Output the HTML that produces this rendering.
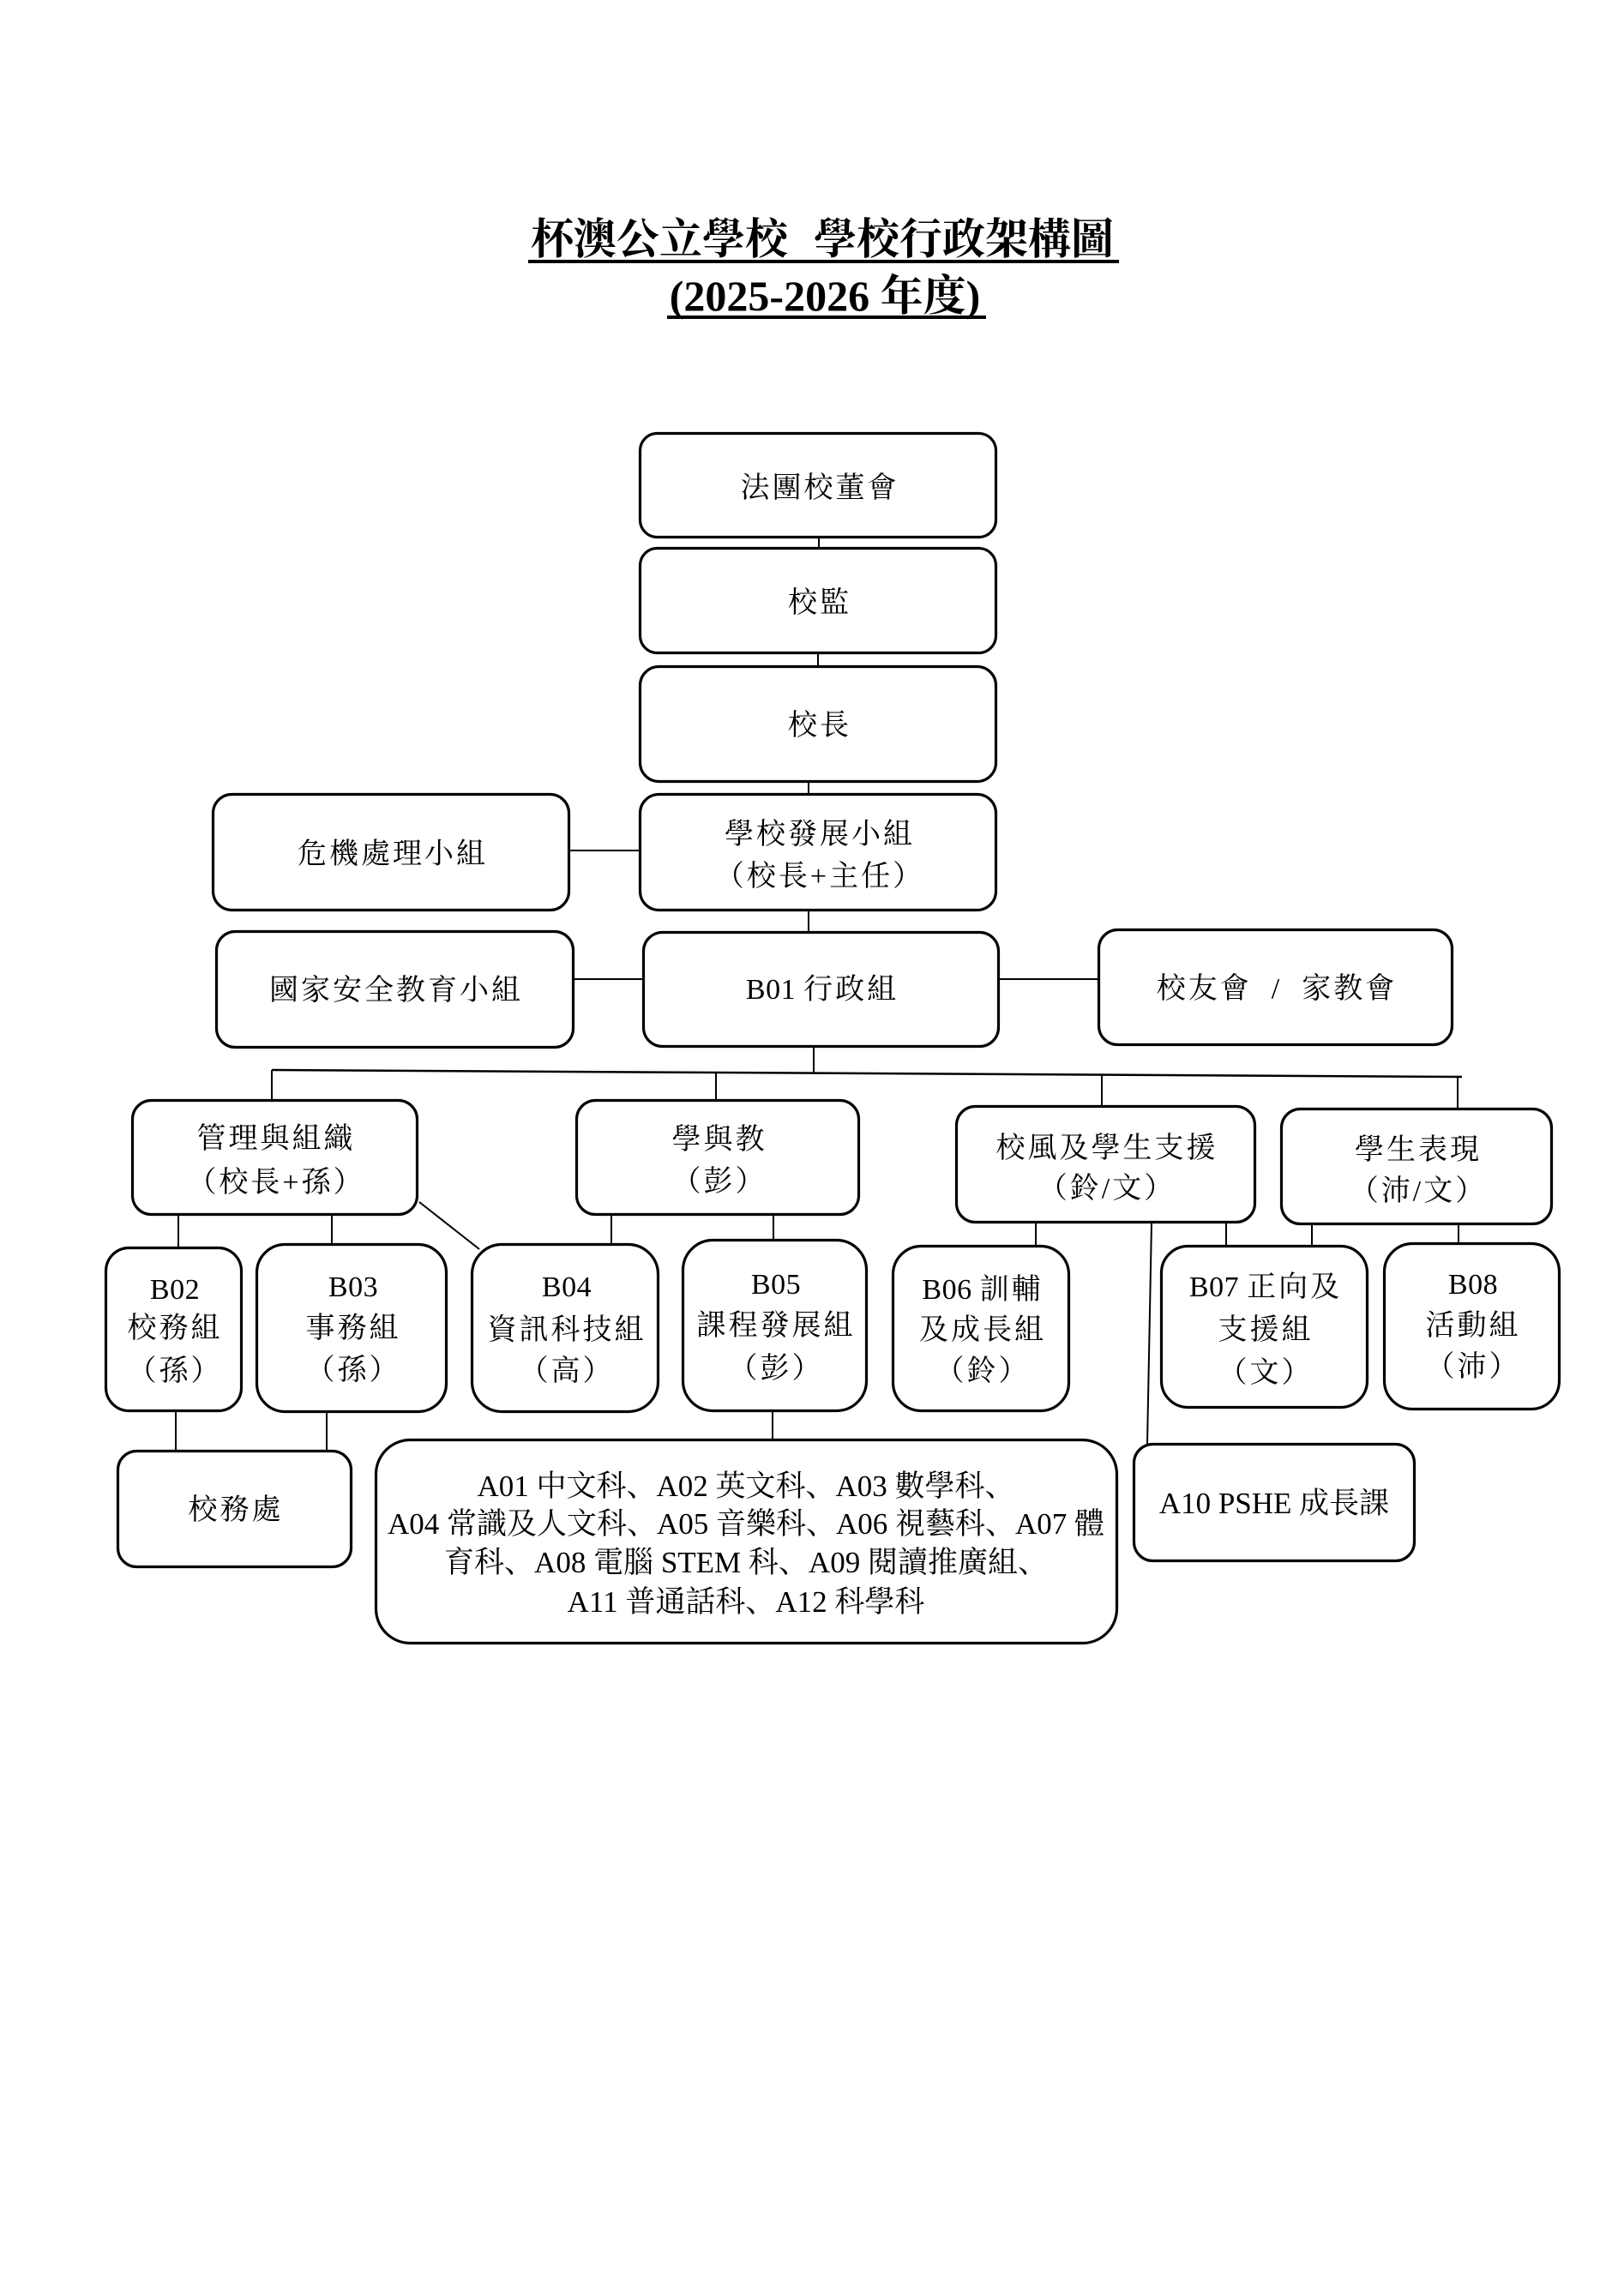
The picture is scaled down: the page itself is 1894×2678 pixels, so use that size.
<!DOCTYPE html>
<html><head><meta charset="utf-8">
<style>
html,body{margin:0;padding:0;background:#fff;}
svg{display:block;}
text{font-family:"Liberation Serif","Noto Serif CJK SC",serif;fill:#000;}
.t{font-size:34px;letter-spacing:3px;}
.a{font-size:35px;letter-spacing:0;}
.h{font-size:50px;font-weight:bold;}
.l{letter-spacing:0.5px;}
</style></head>
<body>
<svg width="1894" height="2678" viewBox="0 0 1894 2678" xmlns="http://www.w3.org/2000/svg">
<rect x="0" y="0" width="1894" height="2678" fill="#fff"/>

<!-- Title -->
<text class="h" x="619" y="296" text-anchor="start">杯澳公立學校</text>
<text class="h" x="1299" y="296" text-anchor="end">學校行政架構圖</text>
<rect x="616" y="303" width="689" height="4" fill="#000"/>
<text class="h" x="962" y="362" text-anchor="middle">(2025-2026 年度)</text>
<rect x="778" y="368" width="372" height="4" fill="#000"/>

<!-- connectors -->
<g stroke="#000" stroke-width="2" fill="none">
<line x1="955" y1="628" x2="955" y2="639"/>
<line x1="954" y1="763" x2="954" y2="777"/>
<line x1="943" y1="913" x2="943" y2="926"/>
<line x1="665" y1="992" x2="746" y2="992"/>
<line x1="943" y1="1063" x2="943" y2="1087"/>
<line x1="670" y1="1142" x2="750" y2="1142"/>
<line x1="1166" y1="1142" x2="1281" y2="1142"/>
<line x1="949" y1="1222" x2="949" y2="1252"/>
<line x1="317" y1="1248" x2="1705" y2="1256" stroke-width="2.5"/>
<line x1="317" y1="1248" x2="317" y2="1283"/>
<line x1="835" y1="1251" x2="835" y2="1283"/>
<line x1="1285" y1="1253" x2="1285" y2="1290"/>
<line x1="1700" y1="1256" x2="1700" y2="1293"/>
<line x1="208" y1="1418" x2="208" y2="1455"/>
<line x1="387" y1="1418" x2="387" y2="1451"/>
<line x1="489" y1="1402" x2="559" y2="1457"/>
<line x1="713" y1="1418" x2="713" y2="1451"/>
<line x1="902" y1="1418" x2="902" y2="1446"/>
<line x1="1208" y1="1427" x2="1208" y2="1453"/>
<line x1="1430" y1="1427" x2="1430" y2="1453"/>
<line x1="1343" y1="1427" x2="1338" y2="1684"/>
<line x1="1530" y1="1429" x2="1530" y2="1453"/>
<line x1="1701" y1="1429" x2="1701" y2="1450"/>
<line x1="205" y1="1647" x2="205" y2="1692"/>
<line x1="381" y1="1648" x2="381" y2="1692"/>
<line x1="901" y1="1647" x2="901" y2="1679"/>
</g>

<!-- boxes -->
<g stroke="#000" stroke-width="3.2" fill="#fff">
<rect x="746.5" y="505.5" width="415" height="121" rx="20"/>
<rect x="746.5" y="639.5" width="415" height="122" rx="20"/>
<rect x="746.5" y="777.5" width="415" height="134" rx="22"/>
<rect x="746.5" y="926.5" width="415" height="135" rx="22"/>
<rect x="248.5" y="926.5" width="415" height="135" rx="22"/>
<rect x="252.5" y="1086.5" width="416" height="135" rx="22"/>
<rect x="750.5" y="1087.5" width="414" height="133" rx="22"/>
<rect x="1281.5" y="1084.5" width="412" height="134" rx="22"/>
<rect x="154.5" y="1283.5" width="332" height="133" rx="22"/>
<rect x="672.5" y="1283.5" width="329" height="133" rx="22"/>
<rect x="1115.5" y="1290.5" width="348" height="135" rx="22"/>
<rect x="1494.5" y="1293.5" width="315" height="134" rx="22"/>
<rect x="123.5" y="1455.5" width="158" height="190" rx="27"/>
<rect x="299.5" y="1451.5" width="221" height="195" rx="33"/>
<rect x="550.5" y="1451.5" width="217" height="195" rx="35"/>
<rect x="796.5" y="1446.5" width="214" height="199" rx="35"/>
<rect x="1041.5" y="1453.5" width="205" height="192" rx="33"/>
<rect x="1354.5" y="1453.5" width="240" height="188" rx="31"/>
<rect x="1614.5" y="1450.5" width="204" height="193" rx="33"/>
<rect x="137.5" y="1692.5" width="272" height="135" rx="22"/>
<rect x="438.5" y="1679.5" width="864" height="237" rx="40"/>
<rect x="1322.5" y="1684.5" width="327" height="136" rx="22"/>
</g>

<!-- texts -->
<g text-anchor="middle">
<text class="t" x="956" y="580">法團校董會</text>
<text class="t" x="956" y="714">校監</text>
<text class="t" x="956" y="857">校長</text>
<text class="t" x="956" y="984">學校發展小組</text>
<text class="t" x="956" y="1033">（校長+主任）</text>
<text class="t" x="458" y="1007">危機處理小組</text>
<text class="t" x="462" y="1166">國家安全教育小組</text>
<text class="t" x="959" y="1165"><tspan class="l">B01 </tspan>行政組</text>
<text class="t" x="1489" y="1164" style="white-space:pre">校友會  /  家教會</text>

<text class="t" x="322" y="1339">管理與組織</text>
<text class="t" x="322" y="1390">（校長+孫）</text>
<text class="t" x="839" y="1340">學與教</text>
<text class="t" x="839" y="1389">（彭）</text>
<text class="t" x="1291" y="1350">校風及學生支援</text>
<text class="t" x="1291" y="1397">（鈴/文）</text>
<text class="t" x="1654" y="1352">學生表現</text>
<text class="t" x="1654" y="1400">（沛/文）</text>

<text class="t l" x="204" y="1515">B02</text>
<text class="t" x="204" y="1560">校務組</text>
<text class="t" x="204" y="1610">（孫）</text>

<text class="t l" x="412" y="1512">B03</text>
<text class="t" x="412" y="1560">事務組</text>
<text class="t" x="412" y="1609">（孫）</text>

<text class="t l" x="661" y="1512">B04</text>
<text class="t" x="661" y="1562">資訊科技組</text>
<text class="t" x="661" y="1610">（高）</text>

<text class="t l" x="905" y="1509">B05</text>
<text class="t" x="905" y="1557">課程發展組</text>
<text class="t" x="905" y="1607">（彭）</text>

<text class="t" x="1146" y="1515"><tspan class="l">B06 </tspan>訓輔</text>
<text class="t" x="1146" y="1562">及成長組</text>
<text class="t" x="1146" y="1610">（鈴）</text>

<text class="t" x="1476" y="1512"><tspan class="l">B07 </tspan>正向及</text>
<text class="t" x="1476" y="1562">支援組</text>
<text class="t" x="1476" y="1612">（文）</text>

<text class="t l" x="1718" y="1509">B08</text>
<text class="t" x="1718" y="1557">活動組</text>
<text class="t" x="1718" y="1605">（沛）</text>

<text class="t" x="275" y="1772">校務處</text>

<text class="a" x="870" y="1745">A01 中文科、A02 英文科、A03 數學科、</text>
<text class="a" x="870" y="1789">A04 常識及人文科、A05 音樂科、A06 視藝科、A07 體</text>
<text class="a" x="870" y="1834">育科、A08 電腦 STEM 科、A09 閱讀推廣組、</text>
<text class="a" x="870" y="1880">A11 普通話科、A12 科學科</text>

<text class="a" x="1486" y="1765">A10 PSHE 成長課</text>
</g>
</svg>
</body></html>
